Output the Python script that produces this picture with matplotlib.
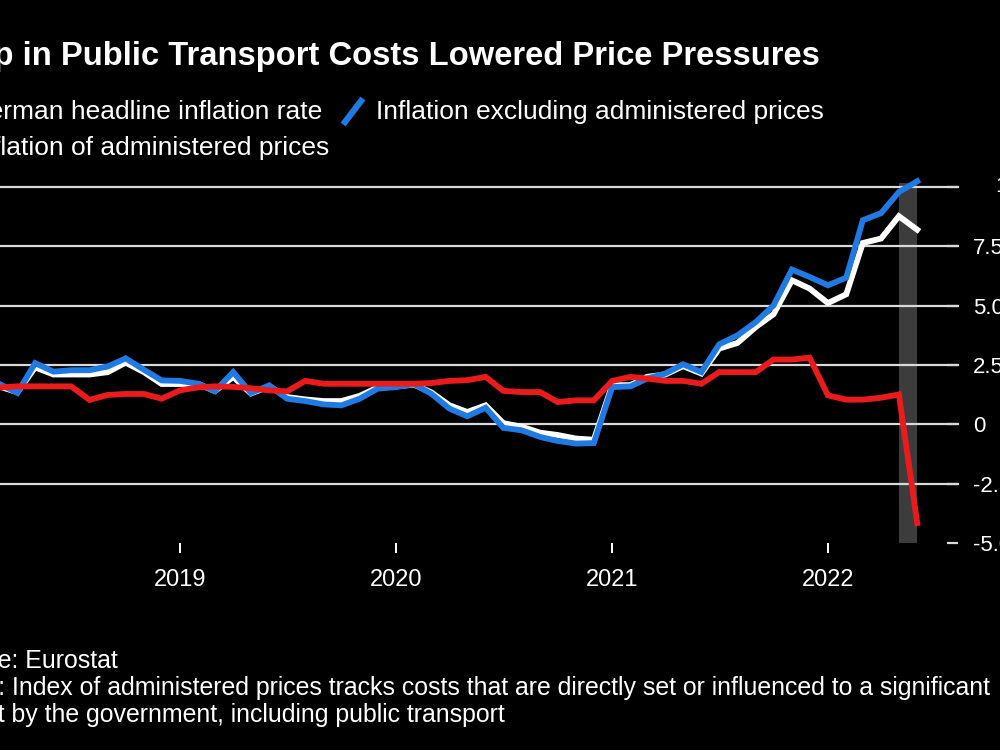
import matplotlib
matplotlib.use("Agg")
import matplotlib.pyplot as plt
from matplotlib.lines import Line2D
from matplotlib.transforms import blended_transform_factory
import pandas as pd

# ---------------- data ----------------
months = pd.date_range("2018-01-01", "2022-06-01", freq="MS")

headline = [1.4, 1.2, 1.6, 1.35, 2.4, 2.1, 2.1, 2.1, 2.2, 2.6, 2.2, 1.7,
            1.7, 1.7, 1.4, 2.0, 1.3, 1.6, 1.15, 1.05, 0.98, 0.98, 1.2, 1.55,
            1.6, 1.67, 1.35, 0.8, 0.52, 0.8, 0.05, -0.1, -0.35, -0.45, -0.6, -0.65,
            1.65, 1.65, 2.0, 2.1, 2.45, 2.14, 3.19, 3.43, 4.1, 4.64, 6.07, 5.72,
            5.11, 5.48, 7.64, 7.83, 8.77, 8.2]

excl_admin = [1.4, 1.2, 1.71, 1.32, 2.58, 2.22, 2.28, 2.28, 2.44, 2.78, 2.3, 1.85,
              1.83, 1.71, 1.4, 2.2, 1.32, 1.64, 1.08, 0.98, 0.84, 0.8, 1.08, 1.5,
              1.57, 1.69, 1.29, 0.66, 0.34, 0.7, -0.15, -0.25, -0.53, -0.7, -0.81, -0.79,
              1.57, 1.6, 1.93, 2.14, 2.53, 2.2, 3.37, 3.75, 4.31, 5.01, 6.52, 6.21,
              5.86, 6.18, 8.6, 8.9, 9.79, 10.24]

admin = [1.6, 1.6, 1.55, 1.6, 1.6, 1.6, 1.6, 1.03, 1.24, 1.28, 1.28, 1.08,
         1.43, 1.56, 1.6, 1.58, 1.52, 1.43, 1.39, 1.83, 1.71, 1.71, 1.71, 1.71,
         1.71, 1.71, 1.74, 1.83, 1.86, 2.0, 1.41, 1.36, 1.36, 0.94, 1.01, 1.01,
         1.83, 2.0, 1.93, 1.83, 1.83, 1.71, 2.2, 2.2, 2.2, 2.73, 2.73, 2.81,
         1.22, 1.04, 1.04, 1.12, 1.26, -4.16]

y_ticks = [-5.0, -2.5, 0, 2.5, 5.0, 7.5, 10]
y_tick_labels = ["-5.0", "-2.5", "0", "2.5", "5.0", "7.5", "10"]
x_ticks = pd.to_datetime(["2019-01-01", "2020-01-01", "2021-01-01", "2022-01-01"])
x_tick_labels = ["2019", "2020", "2021", "2022"]
highlight = pd.to_datetime(["2022-05-01", "2022-06-01"])

title = "Drop in Public Transport Costs Lowered Price Pressures"
legend_labels = ["German headline inflation rate",
                 "Inflation excluding administered prices",
                 "Inflation of administered prices"]
source = "Source: Eurostat"
note1 = "Note: Index of administered prices tracks costs that are directly set or influenced to a significant"
note2 = "extent by the government, including public transport"

# ---------------- style ----------------
FONT = "Liberation Sans"
plt.rcParams["font.family"] = [FONT, "DejaVu Sans"]
BG = "#000000"
WHITE = "#ffffff"
BLUE = "#1f7ae3"
RED = "#ec1b1b"
GRID = "#d9d9d9"
BAND = "#3c3c3c"

W, H = 1000, 750
fig = plt.figure(figsize=(10, 7.5), dpi=100, facecolor=BG)

def fx(px):
    return px / W

def fy(py):
    return 1 - py / H

ax_left, ax_right, ax_top, ax_bottom = -50, 958, 187, 543
ax = fig.add_axes([fx(ax_left), fy(ax_bottom), fx(ax_right - ax_left), (ax_bottom - ax_top) / H])
ax.set_facecolor(BG)

ax.set_xlim(pd.Timestamp("2017-12-08"), pd.Timestamp("2022-08-09"))
ax.set_ylim(-5, 10)

ax.axvspan(highlight[0], highlight[1], ymax=1.01, color=BAND, zorder=1, lw=0, clip_on=False)
for v in y_ticks[1:]:
    ax.axhline(v, color=GRID, lw=1.6, zorder=2, clip_on=False)

lw = 4.2
ax.plot(months, headline, color=WHITE, lw=lw, zorder=3, solid_joinstyle="miter", clip_on=False)
ax.plot(months, excl_admin, color=BLUE, lw=lw, zorder=4, solid_joinstyle="miter", clip_on=False)
ax.plot(months, admin, color=RED, lw=lw, zorder=5, solid_joinstyle="miter", clip_on=False)

for s in ax.spines.values():
    s.set_visible(False)

ax.yaxis.tick_right()
ax.set_yticks(y_ticks)
ax.set_yticklabels(["" if l == "10" else l for l in y_tick_labels])
ax.tick_params(axis="y", direction="in", length=8, width=1.6, color=GRID,
               labelcolor=WHITE, labelsize=16, pad=11)
trans = blended_transform_factory(fig.transFigure, ax.transData)
ax.text(fx(995), 10, "10", transform=trans, color=WHITE, fontsize=16,
        ha="left", va="center")

ax.set_xticks(x_ticks)
ax.set_xticklabels(x_tick_labels)
ax.tick_params(axis="x", direction="out", length=7.5, width=1.4, color=WHITE,
               labelcolor=WHITE, labelsize=17, pad=11)

# ---------------- texts ----------------
fig.text(fx(820), fy(57), title, color=WHITE, fontsize=23.6, fontweight="bold",
         ha="right", va="center")
fig.text(fx(322), fy(112), legend_labels[0], color=WHITE, fontsize=19, ha="right", va="center")
fig.text(fx(376), fy(112), legend_labels[1], color=WHITE, fontsize=19, ha="left", va="center")
fig.text(fx(329), fy(148), legend_labels[2], color=WHITE, fontsize=19, ha="right", va="center")
fig.add_artist(Line2D([fx(345), fx(361)], [fy(122), fy(101)], color=BLUE, lw=4.5,
                      transform=fig.transFigure))

fig.text(fx(118), fy(661), source, color=WHITE, fontsize=17.9, ha="right", va="center")
fig.text(fx(990), fy(688), note1, color=WHITE, fontsize=17.9, ha="right", va="center")
fig.text(fx(505), fy(715), note2, color=WHITE, fontsize=17.9, ha="right", va="center")

fig.savefig("out.png", dpi=100, facecolor=BG)
